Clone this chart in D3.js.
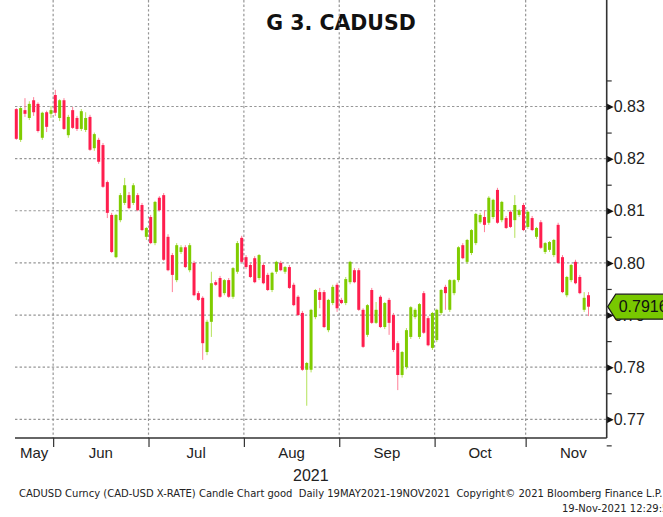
<!DOCTYPE html>
<html lang="en">
<head>
<meta charset="utf-8">
<title>G 3. CADUSD</title>
<style>
  body { margin: 0; background: #fff; }
  svg { display: block; font-family: "Liberation Sans", Arial, sans-serif; }
  .grid line { stroke: #969696; stroke-width: 1.2; stroke-dasharray: 2.4,2.2; }
  .axis text { fill: #222; }
</style>
</head>
<body>
<svg id="chart" width="663" height="517"></svg>
<script src="https://cdn.jsdelivr.net/npm/d3@7"></script>
<script>
// daily candles, 19 May 2021 - 19 Nov 2021 (weekdays)
var open = [
  .8295, .8236, .8293, .8278, .8312, .8305, .8240, .8289, .8286, .8322,
  .8278, .8312, .8245, .8293, .8278, .8257, .8255, .8280, .8220, .8236,
  .8226, .8155, .8092, .8011, .8082, .8115, .8130, .8115, .8130, .8111,
  .8050, .8088, .8038, .8125, .8130, .8050, .8015, .7967, .8021, .8030,
  .7986, .8000, .7942, .7933, .7829, .7887, .7963, .7971, .7942, .7967,
  .7935, .7983, .8048, .8011, .7996, .8009, .7971, .7996, .7977, .7948,
  .7983, .8000, .7983, .7992, .7958, .7935, .7904, .7795, .7795, .7896,
  .7944, .7944, .7871, .7923, .7958, .7929, .7923, .7963, .7986, .7986,
  .7910, .7862, .7948, .7885, .7935, .7877, .7929, .7900, .7846, .7785,
  .7800, .7858, .7896, .7858, .7942, .7894, .7837, .7852, .7904, .7954,
  .7910, .7942, .7967, .8034, .8002, .8019, .8038, .8078, .8088, .8077,
  .8088, .8140, .8082, .8086, .8098, .8082, .8092, .8111, .8069, .8086,
  .8050, .8078, .8021, .8025, .8015, .8073, .8011, .7938, .7967, .8002,
  .7973, .7910, .7938
];
var high = [
  .8297, .8299, .8316, .8310, .8318, .8308, .8290, .8292, .8301, .8332,
  .8314, .8316, .8284, .8299, .8282, .8295, .8289, .8284, .8250, .8240,
  .8230, .8158, .8096, .8094, .8134, .8163, .8136, .8153, .8134, .8115,
  .8069, .8092, .8119, .8128, .8134, .8055, .8019, .8038, .8034, .8034,
  .8038, .8004, .7946, .7936, .7891, .7983, .7967, .7975, .7969, .7971,
  .7992, .8042, .8052, .8015, .8000, .8013, .8017, .8000, .7981, .7983,
  .8004, .8004, .7994, .7996, .7962, .7938, .7908, .7810, .7912, .7950,
  .7952, .7948, .7931, .7958, .7962, .7933, .7973, .8004, .7990, .7990,
  .7913, .7921, .7952, .7925, .7938, .7925, .7933, .7904, .7850, .7831,
  .7875, .7917, .7913, .7923, .7946, .7898, .7906, .7912, .7950, .7958,
  .7969, .7969, .8032, .8038, .8046, .8065, .8096, .8096, .8101, .8128,
  .8123, .8144, .8119, .8090, .8101, .8130, .8103, .8115, .8100, .8090,
  .8069, .8082, .8040, .8042, .8046, .8077, .8015, .7975, .7998, .8006,
  .7977, .7944, .7944
];
var low = [
  .8236, .8232, .8280, .8274, .8282, .8250, .8236, .8251, .8278, .8282,
  .8272, .8255, .8240, .8257, .8253, .8253, .8251, .8215, .8215, .8190,
  .8144, .8086, .8019, .8009, .8078, .8111, .8103, .8111, .8099, .8061,
  .8044, .8036, .8034, .8099, .8004, .7984, .7944, .7963, .8017, .7990,
  .7982, .7936, .7927, .7814, .7823, .7858, .7956, .7933, .7938, .7933,
  .7931, .7979, .8000, .7988, .7971, .7961, .7967, .7959, .7946, .7944,
  .7979, .7984, .7979, .7950, .7917, .7898, .7793, .7726, .7790, .7892,
  .7913, .7875, .7867, .7919, .7906, .7921, .7919, .7959, .7961, .7908,
  .7837, .7858, .7883, .7883, .7875, .7873, .7862, .7829, .7756, .7780,
  .7796, .7854, .7892, .7854, .7864, .7840, .7833, .7848, .7900, .7910,
  .7906, .7938, .7963, .8007, .7998, .8015, .8034, .8075, .8059, .8073,
  .8084, .8075, .8078, .8065, .8067, .8048, .8088, .8061, .8065, .8061,
  .8046, .8027, .8017, .8021, .8011, .7998, .7942, .7934, .7963, .7959,
  .7940, .7906, .7898
];
var close = [
  .8238, .8297, .8286, .8305, .8289, .8253, .8288, .8261, .8293, .8288,
  .8312, .8257, .8280, .8259, .8257, .8291, .8278, .8217, .8247, .8194,
  .8146, .8096, .8021, .8092, .8130, .8149, .8105, .8149, .8101, .8063,
  .8067, .8038, .8117, .8101, .8006, .7986, .7977, .8034, .8030, .7992,
  .8034, .7938, .7929, .7846, .7887, .7961, .7958, .7935, .7967, .7935,
  .7990, .8038, .8002, .7992, .7973, .7963, .8015, .7961, .7948, .7981,
  .8002, .7986, .7992, .7952, .7919, .7900, .7795, .7808, .7910, .7948,
  .7929, .7877, .7929, .7954, .7913, .7923, .7969, .8002, .7963, .7910,
  .7839, .7919, .7885, .7910, .7877, .7923, .7885, .7833, .7785, .7829,
  .7871, .7915, .7910, .7921, .7866, .7842, .7904, .7910, .7948, .7942,
  .7967, .7967, .8030, .8009, .8044, .8063, .8094, .8092, .8073, .8125,
  .8121, .8077, .8117, .8067, .8069, .8111, .8101, .8063, .8098, .8063,
  .8067, .8029, .8038, .8040, .8044, .8000, .7944, .7973, .7996, .7961,
  .7942, .7933, .7916
];

// month labels and weekday index of first / last day of each month
var monthLabels = ["May", "Jun", "Jul", "Aug", "Sep", "Oct", "Nov"];
var monthFirst = [0, 9, 31, 53, 75, 97, 118];
var monthLast = [8, 30, 52, 74, 96, 117, 139];
var yearLabel = "2021";

var yTicks = [0.77, 0.78, 0.79, 0.80, 0.81, 0.82, 0.83];
var yMinor = [0.765, 0.775, 0.785, 0.795, 0.805, 0.815, 0.825, 0.835];
var lastPrice = 0.7916;

var title = "G 3. CADUSD";
var footer1 = "CADUSD Curncy (CAD-USD X-RATE) Candle Chart good  Daily 19MAY2021-19NOV2021  Copyright\u00a9 2021 Bloomberg Finance L.P.";
var footer2 = "19-Nov-2021 12:29:59";

var svg = d3.select("#chart"),
    left = 15, right = 606.7, top = 60, bottom = 438;

var red = "#ff1e4e", redWick = "#ff7f98",
    green = "#7fcc00", greenWick = "#b4e25a";

var x = d3.scaleLinear().domain([0, close.length - 1]).range([16.3, 588.5]);
var y = d3.scaleLinear().domain([0.77, 0.83]).range([419.3, 106.5]);

// title
svg.append("text")
  .attr("x", 341).attr("y", 30)
  .attr("text-anchor", "middle")
  .style("font-family", "'DejaVu Sans', sans-serif")
  .style("font-weight", "bold")
  .style("font-size", "20.5px")
  .attr("fill", "#111")
  .text(title);

// grid
var grid = svg.append("g").attr("class", "grid");
grid.selectAll(".h").data(yTicks).enter().append("line")
  .attr("x1", left).attr("x2", right)
  .attr("y1", function(d) { return y(d); })
  .attr("y2", function(d) { return y(d); });
grid.selectAll(".v").data(monthFirst.slice(1)).enter().append("line")
  .attr("x1", function(d) { return x(d - 0.5); })
  .attr("x2", function(d) { return x(d - 0.5); })
  .attr("y1", top).attr("y2", bottom);

// candles
var idx = d3.range(close.length);
var candles = svg.append("g");
candles.selectAll("line").data(idx).enter().append("line")
  .attr("x1", function(i) { return x(i); })
  .attr("x2", function(i) { return x(i); })
  .attr("y1", function(i) { return y(high[i]); })
  .attr("y2", function(i) { return y(low[i]); })
  .attr("stroke", function(i) { return close[i] >= open[i] ? greenWick : redWick; })
  .attr("stroke-width", 1);
candles.selectAll("rect").data(idx).enter().append("rect")
  .attr("x", function(i) { return x(i) - 1.5; })
  .attr("width", 3)
  .attr("y", function(i) { return y(Math.max(open[i], close[i])); })
  .attr("height", function(i) { return Math.max(1.5, Math.abs(y(open[i]) - y(close[i]))); })
  .attr("fill", function(i) { return close[i] >= open[i] ? green : red; });

// right axis
var yAxis = svg.append("g").attr("class", "axis")
  .attr("transform", "translate(" + right + ",0)")
  .call(d3.axisRight(y).tickValues(yTicks).tickSize(0).tickPadding(7)
        .tickFormat(d3.format(".2f")));
yAxis.select(".domain").remove();
yAxis.selectAll("text").style("font-size", "16px");
yAxis.selectAll(".tick").append("path")
  .attr("d", "M0,-3.5L7,0L0,3.5Z")
  .attr("fill", "#111");

var yMinorAxis = svg.append("g")
  .attr("transform", "translate(" + right + ",0)")
  .call(d3.axisRight(y).tickValues(yMinor).tickSize(5).tickFormat(""));
yMinorAxis.select(".domain").remove();
yMinorAxis.selectAll("line").attr("stroke", "#333").attr("stroke-width", 1.2);

// frame: right and bottom
svg.append("line")
  .attr("x1", right).attr("x2", right).attr("y1", top).attr("y2", bottom)
  .attr("stroke", "#333").attr("stroke-width", 1.6);
svg.append("line")
  .attr("x1", left).attr("x2", right).attr("y1", bottom).attr("y2", bottom)
  .attr("stroke", "#333").attr("stroke-width", 1.6);

// bottom axis ticks at month boundaries
var xAxis = svg.append("g")
  .attr("transform", "translate(0," + bottom + ")")
  .call(d3.axisBottom(x).tickValues(monthFirst.slice(1).map(function(d) { return d - 0.5; }))
        .tickSize(9).tickFormat(""));
xAxis.select(".domain").remove();
xAxis.selectAll("line").attr("stroke", "#333").attr("stroke-width", 1.2);

// month labels centred over each month
svg.append("g").attr("class", "axis").selectAll("text").data(monthLabels).enter().append("text")
  .attr("x", function(d, k) {
    var a = Math.max(left, x(monthFirst[k] - 0.5)), b = x(monthLast[k] + 0.5);
    return (a + b) / 2;
  })
  .attr("y", 458)
  .attr("text-anchor", "middle")
  .style("font-size", "15px")
  .text(function(d) { return d; });

svg.append("text").attr("class", "axis")
  .attr("x", (left + right) / 2).attr("y", 481)
  .attr("text-anchor", "middle")
  .attr("fill", "#222")
  .style("font-size", "16px")
  .text(yearLabel);

// last price marker
var py = y(lastPrice);
svg.append("path")
  .attr("d", "M" + (right + 1) + "," + py + "L" + (right + 9) + "," + (py - 12.5) +
             "L670," + (py - 12.5) + "L670," + (py + 12.5) +
             "L" + (right + 9) + "," + (py + 12.5) + "Z")
  .attr("fill", "#78c800")
  .attr("stroke", "#1a1a1a")
  .attr("stroke-width", 1.2);
svg.append("text")
  .attr("x", right + 12).attr("y", py)
  .attr("dy", "0.35em")
  .attr("fill", "#111")
  .style("font-size", "16px")
  .text(d3.format(".4f")(lastPrice));

// footer
svg.append("text")
  .attr("x", 19).attr("y", 497)
  .style("font-family", "'DejaVu Sans', sans-serif")
  .style("font-size", "10px")
  .style("white-space", "pre")
  .attr("fill", "#222")
  .text(footer1);
svg.append("text")
  .attr("x", 562).attr("y", 512)
  .style("font-family", "'DejaVu Sans', sans-serif")
  .style("font-size", "10px")
  .attr("fill", "#222")
  .text(footer2);
</script>
</body>
</html>
